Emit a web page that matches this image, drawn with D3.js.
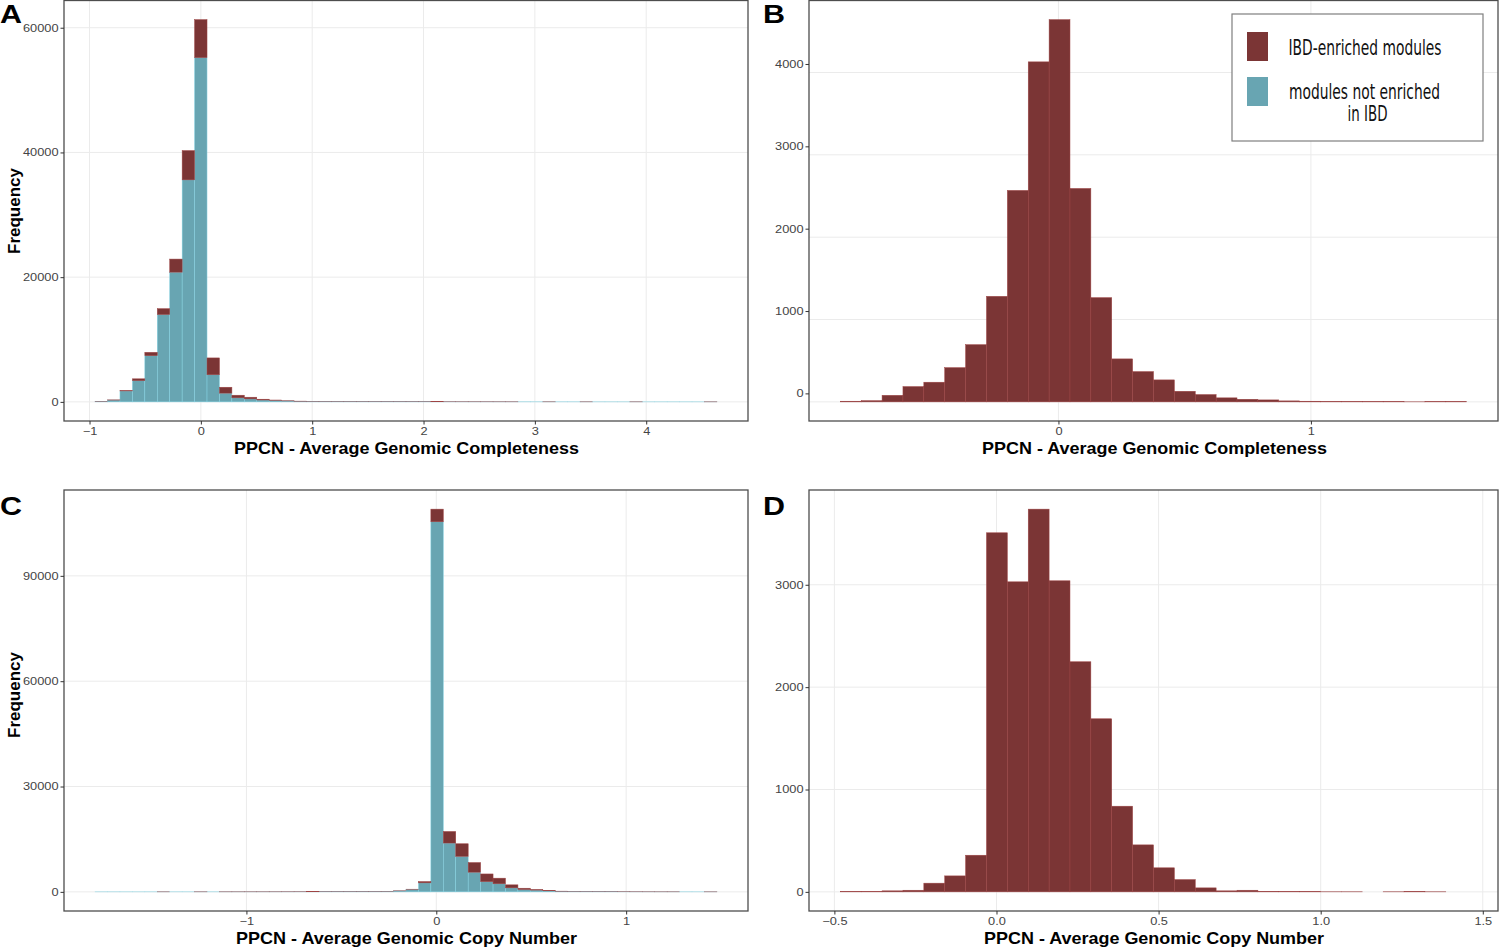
<!DOCTYPE html>
<html>
<head>
<meta charset="utf-8">
<script src="https://cdn.jsdelivr.net/npm/d3@7/dist/d3.min.js"></script>
<style>
  body { margin: 0; background: #fff; }
  svg { display: block; }
  text { font-family: "Liberation Sans", Arial, sans-serif; }
</style>
</head>
<body>
<script>
// ---- data ----
// A: completeness, all modules, 50 bins
var aStart = -0.950, aWidth = 0.1117;
var aNotEnriched = [90, 290, 1750, 3400, 7400, 14000, 20800, 35600, 55200, 4350, 1400, 650, 480, 300, 240, 150, 100,
  80, 65, 55, 45, 40, 35, 30, 28, 25, 22, 20, 18, 16, 15, 14, 12, 11, 10, 9, 9, 8, 8, 7, 7, 6, 6, 6, 5, 5, 5, 5, 4, 6];
var aIBD = [10, 30, 50, 300, 550, 950, 2100, 4700, 6100, 2700, 950, 420, 270, 130, 60, 30, 20,
  10, 8, 6, 5, 4, 3, 3, 2, 2, 2, 2, 1, 1, 1, 1, 1, 1, 0, 0, 1, 0, 0, 1, 0, 0, 0, 1, 0, 0, 0, 0, 0, 1];

// B: completeness, IBD-enriched only, 30 bins
var bStart = -0.864, bWidth = 0.0827;
var bIBD = [8, 15, 80, 186, 239, 416, 695, 1282, 2568, 4129, 4642, 2592, 1266, 522, 368, 267, 129, 89, 49, 32,
  24, 12, 8, 4, 3, 2, 3, 1, 2, 3];

// C: copy number, all modules, 50 bins
var cStart = -1.797, cWidth = 0.0655;
var cNotEnriched = [3, 3, 4, 4, 5, 5, 6, 6, 7, 8, 9, 10, 12, 14, 16, 20, 25, 30, 40, 50, 60, 80,
  90, 140, 280, 700, 2560, 105400, 13900, 10100, 5600, 2900, 2300, 1140, 660, 500, 300, 170,
  110, 75, 50, 40, 30, 20, 15, 10, 10, 8, 5, 5];
var cIBD = [0, 0, 0, 0, 0, 1, 0, 0, 1, 0, 1, 1, 1, 1, 2, 2, 3, 3, 4, 5, 6, 8,
  10, 10, 20, 60, 380, 3600, 3300, 3600, 2750, 2200, 1600, 860, 380, 160, 80, 30,
  10, 5, 5, 3, 2, 2, 1, 1, 1, 0, 0, 1];

// D: copy number, IBD-enriched only, 30 bins
var dStart = -0.4817, dWidth = 0.0644;
var dIBD = [3, 3, 10, 16, 85, 156, 358, 3508, 3029, 3739, 3039, 2248, 1691, 837, 459, 235, 120, 39, 10, 16,
  4, 2, 2, 1, 1, 0, 1, 3, 1, 0];

var aXTicks = [-1, 0, 1, 2, 3, 4], aYTicks = [0, 20000, 40000, 60000];
var bXTicks = [0, 1], bYTicks = [0, 1000, 2000, 3000, 4000];
var cXTicks = [-1, 0, 1], cYTicks = [0, 30000, 60000, 90000];
var dXTicks = [-0.5, 0, 0.5, 1.0, 1.5], dYTicks = [0, 1000, 2000, 3000];

var legendLabels = [["IBD-enriched modules"], ["modules not enriched", "in IBD"]];

var colIBD = "#7b3535", colNot = "#68a5b2";

var svg = d3.select("body").append("svg")
  .attr("width", 1500)
  .attr("height", 948);

var tickScaleX = 1.22;

function panel(p) {
  var g = svg.append("g");
  var n = p.series[0].values.length;
  var lo = p.start, hi = p.start + n * p.width;
  var totals = d3.range(n).map(i => d3.sum(p.series, s => s.values[i]));
  var ymax = d3.max(totals);

  // ggplot style 5% expansion
  var x = d3.scaleLinear()
    .domain([lo - 0.05 * (hi - lo), hi + 0.05 * (hi - lo)])
    .range([p.box[0], p.box[1]]);
  var y = d3.scaleLinear()
    .domain([-0.05 * ymax, 1.05 * ymax])
    .range([p.box[3], p.box[2]]);

  // grid
  g.selectAll(".gx").data(p.xTicks).enter().append("line")
    .attr("x1", d => x(d)).attr("x2", d => x(d))
    .attr("y1", p.box[2]).attr("y2", p.box[3])
    .attr("stroke", "#ebebeb").attr("stroke-width", 1);
  g.selectAll(".gy").data(p.yTicks).enter().append("line")
    .attr("x1", p.box[0]).attr("x2", p.box[1])
    .attr("y1", d => y(d)).attr("y2", d => y(d))
    .attr("stroke", "#ebebeb").attr("stroke-width", 1);

  // stacked bars, first series at the bottom
  var base = d3.range(n).map(() => 0);
  p.series.forEach(function(s) {
    var rows = s.values.map(function(v, i) {
      var r = { i: i, y0: base[i], y1: base[i] + v };
      base[i] += v;
      return r;
    });
    g.selectAll(null).data(rows).enter().append("rect")
      .attr("x", d => x(lo + d.i * p.width))
      .attr("width", d => x(lo + (d.i + 1) * p.width) - x(lo + d.i * p.width))
      .attr("y", d => y(d.y1))
      .attr("height", d => y(d.y0) - y(d.y1))
      .attr("fill", s.color)
      .attr("stroke", d3.color(s.color).brighter(0.7))
      .attr("stroke-width", 0.5);
  });

  // border
  g.append("rect")
    .attr("x", p.box[0]).attr("y", p.box[2])
    .attr("width", p.box[1] - p.box[0]).attr("height", p.box[3] - p.box[2])
    .attr("fill", "none").attr("stroke", "#4d4d4d").attr("stroke-width", 1.3);

  // axes
  var ya = g.append("g")
    .attr("transform", "translate(" + p.box[0] + "," + (p.yShift || 0) + ")")
    .call(d3.axisLeft(y).tickValues(p.yTicks).tickSize(3.5).tickPadding(2).tickFormat(d3.format("d")));
  var xa = g.append("g")
    .attr("transform", "translate(0," + p.box[3] + ")")
    .call(d3.axisBottom(x).tickValues(p.xTicks).tickSize(3.5).tickPadding(3.5).tickFormat(p.xFormat));
  [ya, xa].forEach(function(a) {
    a.select(".domain").remove();
    a.selectAll(".tick line").attr("stroke", "#333").attr("stroke-width", 1);
    a.selectAll(".tick text")
      .attr("fill", "#444")
      .style("font-size", "10.5px")
      .style("font-family", "'Liberation Sans', Arial, sans-serif");
  });
  ya.selectAll(".tick text")
    .attr("x", -5.5 / tickScaleX)
    .attr("transform", "scale(" + tickScaleX + ",1)");
  xa.selectAll(".tick text")
    .attr("transform", "scale(" + tickScaleX + ",1)");

  // axis title
  g.append("text")
    .attr("x", p.titleX).attr("y", p.titleY)
    .attr("text-anchor", "middle")
    .attr("textLength", p.titleLen).attr("lengthAdjust", "spacingAndGlyphs")
    .style("font-size", "16.5px").style("font-weight", "bold")
    .text(p.title);

  if (p.freqY) {
    g.append("text")
      .attr("transform", "translate(20," + p.freqY + ") rotate(-90)")
      .attr("text-anchor", "middle")
      .style("font-size", "17px").style("font-weight", "bold")
      .text("Frequency");
  }

  // panel letter
  g.append("text")
    .attr("x", p.letterX).attr("y", p.letterY)
    .attr("textLength", 22).attr("lengthAdjust", "spacingAndGlyphs")
    .style("font-size", "25px").style("font-weight", "bold")
    .text(p.letter);
}

panel({
  box: [64, 748, 0.5, 421], start: aStart, width: aWidth,
  series: [{ values: aNotEnriched, color: colNot }, { values: aIBD, color: colIBD }],
  xTicks: aXTicks, yTicks: aYTicks, xFormat: d3.format("d"),
  title: "PPCN - Average Genomic Completeness", titleX: 406.5, titleY: 453.5, titleLen: 345,
  freqY: 211, letter: "A", letterX: 0, letterY: 23
});
panel({
  box: [809, 1498, 0.5, 421], start: bStart, width: bWidth,
  series: [{ values: bIBD, color: colIBD }],
  xTicks: bXTicks, yTicks: bYTicks, xFormat: d3.format("d"), yShift: -8.5,
  title: "PPCN - Average Genomic Completeness", titleX: 1154.5, titleY: 453.5, titleLen: 345,
  letter: "B", letterX: 763, letterY: 23
});
panel({
  box: [64, 748, 490, 911], start: cStart, width: cWidth,
  series: [{ values: cNotEnriched, color: colNot }, { values: cIBD, color: colIBD }],
  xTicks: cXTicks, yTicks: cYTicks, xFormat: d3.format("d"),
  title: "PPCN - Average Genomic Copy Number", titleX: 406.5, titleY: 944, titleLen: 341,
  freqY: 695, letter: "C", letterX: 0, letterY: 515
});
panel({
  box: [809, 1498, 490, 911], start: dStart, width: dWidth,
  series: [{ values: dIBD, color: colIBD }],
  xTicks: dXTicks, yTicks: dYTicks, xFormat: d3.format(".1f"),
  title: "PPCN - Average Genomic Copy Number", titleX: 1154, titleY: 944, titleLen: 340,
  letter: "D", letterX: 763, letterY: 515
});

// legend (drawn in panel B)
var leg = svg.append("g");
leg.append("rect")
  .attr("x", 1232).attr("y", 14).attr("width", 251).attr("height", 127)
  .attr("fill", "#fff").attr("stroke", "#7f7f7f").attr("stroke-width", 1.2);
var legendColors = [colIBD, colNot];
var legendKeyY = [32, 77],
  legendTextY = [[55], [99, 121]],
  legendTextX = [[1365], [1364.5, 1367.5]],
  legendTextLen = [[153], [151, 40]];
legendLabels.forEach(function(lines, i) {
  leg.append("rect")
    .attr("x", 1247).attr("y", legendKeyY[i]).attr("width", 21).attr("height", 29)
    .attr("fill", legendColors[i]);
  lines.forEach(function(t, j) {
    leg.append("text")
      .attr("x", legendTextX[i][j]).attr("y", legendTextY[i][j])
      .attr("text-anchor", "middle")
      .attr("textLength", legendTextLen[i][j]).attr("lengthAdjust", "spacingAndGlyphs")
      .style("font-family", "'Liberation Sans Narrow', 'DejaVu Sans Condensed', sans-serif")
      .style("font-size", "21px")
      .attr("fill", "#111")
      .text(t);
  });
});
</script>
</body>
</html>
